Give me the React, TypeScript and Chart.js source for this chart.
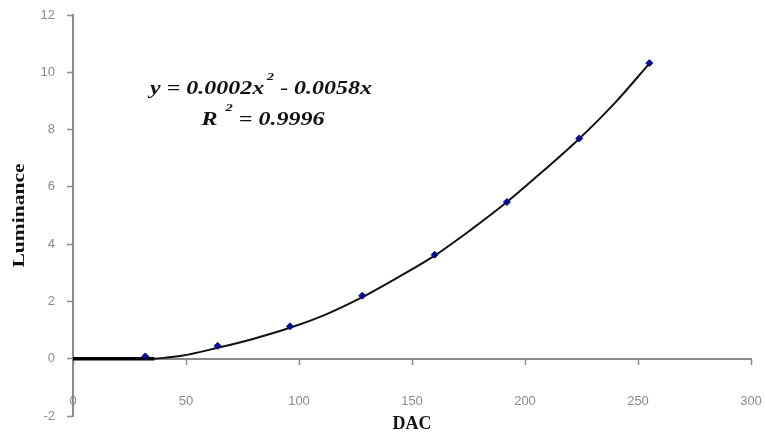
import React, { useEffect, useRef } from "react";
import { Chart, registerables } from "chart.js";

Chart.register(...registerables);

// Measured points (DAC vs Luminance)
const dacValues = [32, 64, 96, 128, 160, 192, 224, 255];
const luminanceValues = [0.08, 0.45, 1.13, 2.2, 3.63, 5.47, 7.69, 10.32];

// Trend line
const trendDac = [36, 48, 64, 80, 96, 112, 128, 144, 160, 176, 192, 208, 224, 240, 255];
const trendLum = [0, 0.1, 0.38, 0.7, 1.08, 1.55, 2.15, 2.85, 3.6, 4.5, 5.47, 6.55, 7.68, 8.95, 10.3];

// Flat part of the line on the zero axis
const zeroDac = [0, 36];
const zeroLum = [0, 0];

const xMin = 0;
const xMax = 300;
const xStep = 50;
const yMin = -2;
const yMax = 12;
const yStep = 2;

const xTitle = "DAC";
const yTitle = "Luminance";
const eqLine1 = ["y = 0.0002x", "2", " - 0.0058x"];
const eqLine2 = ["R", "2", " = 0.9996"];

const GREY = "#8a8a8a";

const equationPlugin = {
  id: "equationText",
  afterDraw(chart: any) {
    const ctx = chart.ctx as CanvasRenderingContext2D;
    const mainFont = 'italic bold 18px "Liberation Serif", "Times New Roman", serif';
    const supFont = 'italic bold 11px "Liberation Serif", "Times New Roman", serif';
    const drawLine = (parts: string[], cx: number, base: number, gapBefore: number, targetW: number) => {
      ctx.save();
      ctx.fillStyle = "#111";
      ctx.textBaseline = "alphabetic";
      ctx.textAlign = "left";
      ctx.font = mainFont;
      const w0 = ctx.measureText(parts[0]).width;
      const w2 = ctx.measureText(parts[2]).width;
      ctx.font = supFont;
      const w1 = ctx.measureText(parts[1]).width;
      const total = w0 + gapBefore + w1 + w2;
      const sx = targetW / total;
      ctx.translate(cx - targetW / 2, base);
      ctx.scale(sx, 1);
      let x = 0;
      ctx.font = mainFont;
      ctx.fillText(parts[0], x, 0);
      x += w0 + gapBefore;
      ctx.font = supFont;
      ctx.fillText(parts[1], x, -14);
      x += w1;
      ctx.font = mainFont;
      ctx.fillText(parts[2], x, 0);
      ctx.restore();
    };
    drawLine(eqLine1, 261, 94, 2, 222);
    drawLine(eqLine2, 263, 125, 6, 123);

    // x-axis title
    ctx.save();
    ctx.fillStyle = "#111";
    ctx.font = 'bold 18px "Liberation Serif", "Times New Roman", serif';
    ctx.textAlign = "center";
    ctx.textBaseline = "middle";
    ctx.fillText(xTitle, 412, 424);
    ctx.restore();

    // y-axis title (rotated)
    ctx.save();
    ctx.fillStyle = "#111";
    ctx.font = 'bold 17px "Liberation Serif", "Times New Roman", serif';
    ctx.textAlign = "center";
    ctx.textBaseline = "middle";
    const ys = chart.scales.y;
    const tw = ctx.measureText(yTitle).width;
    ctx.translate(20, (ys.top + ys.bottom) / 2);
    ctx.rotate(-Math.PI / 2);
    ctx.scale(104 / tw, 1);
    ctx.fillText(yTitle, 0, 0);
    ctx.restore();
  },
};

export default function App() {
  const canvasRef = useRef<HTMLCanvasElement | null>(null);

  useEffect(() => {
    if (!canvasRef.current) return;
    const chart = new Chart(canvasRef.current, {
      type: "scatter",
      data: {
        datasets: [
          {
            label: "zero",
            data: zeroDac.map((x, i) => ({ x, y: zeroLum[i] })),
            showLine: true,
            borderColor: "#000",
            borderWidth: 3.5,
            pointRadius: 0,
            order: 3,
          },
          {
            label: "trend",
            data: trendDac.map((x, i) => ({ x, y: trendLum[i] })),
            showLine: true,
            borderColor: "#111",
            borderWidth: 2,
            pointRadius: 0,
            cubicInterpolationMode: "monotone",
            order: 2,
          } as any,
          {
            label: "Luminance",
            data: dacValues.map((x, i) => ({ x, y: luminanceValues[i] })),
            showLine: false,
            pointStyle: "rectRot",
            pointRadius: 3.5,
            backgroundColor: "#0a0a8c",
            borderColor: "#0a0a8c",
            borderWidth: 1,
            order: 1,
          },
        ],
      },
      options: {
        animation: false,
        responsive: false,
        layout: { padding: { left: 0, top: 15, right: 15, bottom: 22 } },
        plugins: {
          legend: { display: false },
          tooltip: { enabled: false },
        },
        scales: {
          x: {
            type: "linear",
            position: { y: 0 } as any,
            min: xMin,
            max: xMax,
            afterFit: (scale: any) => {
              scale.paddingLeft = 0;
              scale.paddingRight = 0;
              scale.paddingTop = 0;
              scale.paddingBottom = 0;
            },
            ticks: {
              stepSize: xStep,
              padding: 30,
              color: GREY,
              font: { family: '"Liberation Sans", Arial, sans-serif', size: 13 },
            },
            grid: {
              drawOnChartArea: false,
              drawTicks: true,
              tickLength: 5,
              tickColor: GREY,
              tickWidth: 1.5,
            },
            border: { display: true, color: GREY, width: 2 },
          },
          y: {
            type: "linear",
            position: "left",
            min: yMin,
            max: yMax,
            afterFit: (scale: any) => {
              scale.width = 73;
              scale.paddingTop = 0;
              scale.paddingBottom = 0;
            },
            ticks: {
              stepSize: yStep,
              padding: 12,
              color: GREY,
              font: { family: '"Liberation Sans", Arial, sans-serif', size: 13 },
            },
            grid: {
              drawOnChartArea: false,
              drawTicks: true,
              tickLength: 6,
              tickColor: GREY,
              tickWidth: 1.5,
            },
            border: { display: true, color: GREY, width: 2 },
            title: { display: false },
          },
        },
      },
      plugins: [equationPlugin],
    });
    return () => chart.destroy();
  }, []);

  return (
    <div style={{ position: "absolute", left: 0, top: 0, width: 766, height: 438, background: "#fff" }}>
      <canvas ref={canvasRef} width={766} height={438} />
    </div>
  );
}
